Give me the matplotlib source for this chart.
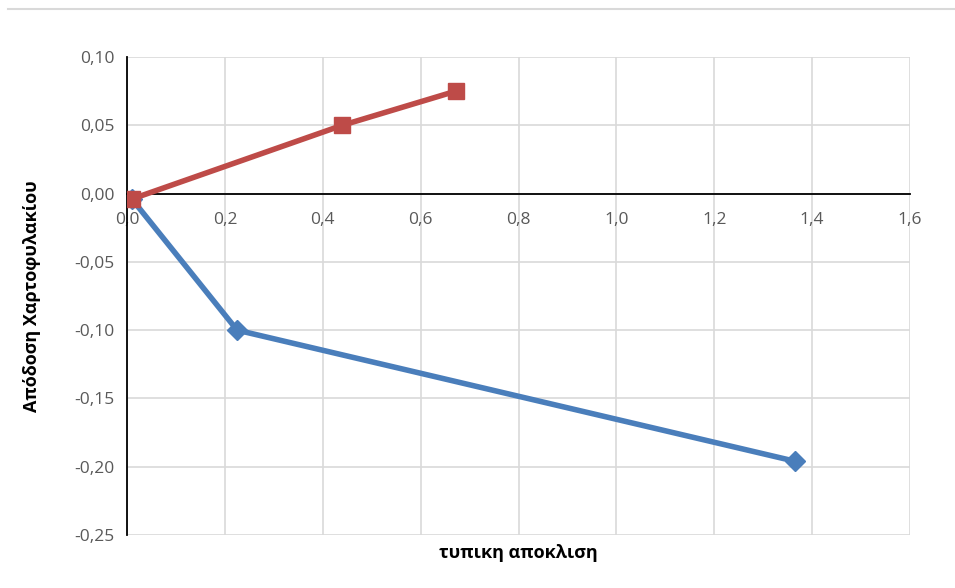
import matplotlib.pyplot as plt
from matplotlib.lines import Line2D

# dane
blue_x = [0.01, 0.225, 1.365]
blue_y = [-0.004, -0.100, -0.196]
red_x = [0.01, 0.44, 0.672]
red_y = [-0.004, 0.050, 0.075]

x_ticks = [0.0, 0.2, 0.4, 0.6, 0.8, 1.0, 1.2, 1.4, 1.6]
y_ticks = [0.10, 0.05, 0.00, -0.05, -0.10, -0.15, -0.20, -0.25]

plt.rcParams['font.family'] = ['Open Sans', 'DejaVu Sans']

fig = plt.figure(figsize=(9.55, 5.88), dpi=100)
ax = fig.add_axes([127 / 955, 1 - 535 / 588, (910 - 127) / 955, (535 - 57) / 588])

ax.plot(blue_x, blue_y, color='#4A7EBB', linewidth=4.0, marker='D',
        markersize=10, zorder=3)
ax.plot(red_x, red_y, color='#BE4B48', linewidth=4.0, marker='s',
        markersize=12, zorder=4)

ax.set_xlim(0, 1.6)
ax.set_ylim(-0.25, 0.10)
ax.set_xticks(x_ticks)
ax.set_yticks(y_ticks)
ax.set_xticklabels([f'{v:.1f}'.replace('.', ',') for v in x_ticks])
ax.set_yticklabels([f'{v:.2f}'.replace('.', ',') for v in y_ticks])
ax.tick_params(length=0, labelsize=12.5, colors='#595959', pad=9)
ax.tick_params(axis='x', pad=13)

ax.grid(True, color='#D9D9D9', linewidth=1.2)
ax.set_axisbelow(True)

ax.spines['bottom'].set_position(('data', 0))
ax.spines['bottom'].set_color('black')
ax.spines['bottom'].set_linewidth(1.3)
ax.spines['left'].set_color('black')
ax.spines['left'].set_linewidth(1.3)
ax.spines['top'].set_visible(False)
ax.spines['right'].set_visible(False)

fig.text(518 / 955, 1 - 553 / 588, 'τυπικη αποκλιση', ha='center', va='center',
         fontsize=13, fontweight='bold', color='black')
fig.text(32 / 955, 1 - 296 / 588, 'Απόδοση Χαρτοφυλακίου', ha='center', va='center',
         rotation=90, fontsize=13, fontweight='bold', color='black')

# szara linia u gory jak w arkuszu
fig.add_artist(Line2D([8 / 955, 1], [1 - 9 / 588, 1 - 9 / 588], color='#D9D9D9',
                      linewidth=1.5, transform=fig.transFigure))

fig.savefig('out.png', dpi=100)
